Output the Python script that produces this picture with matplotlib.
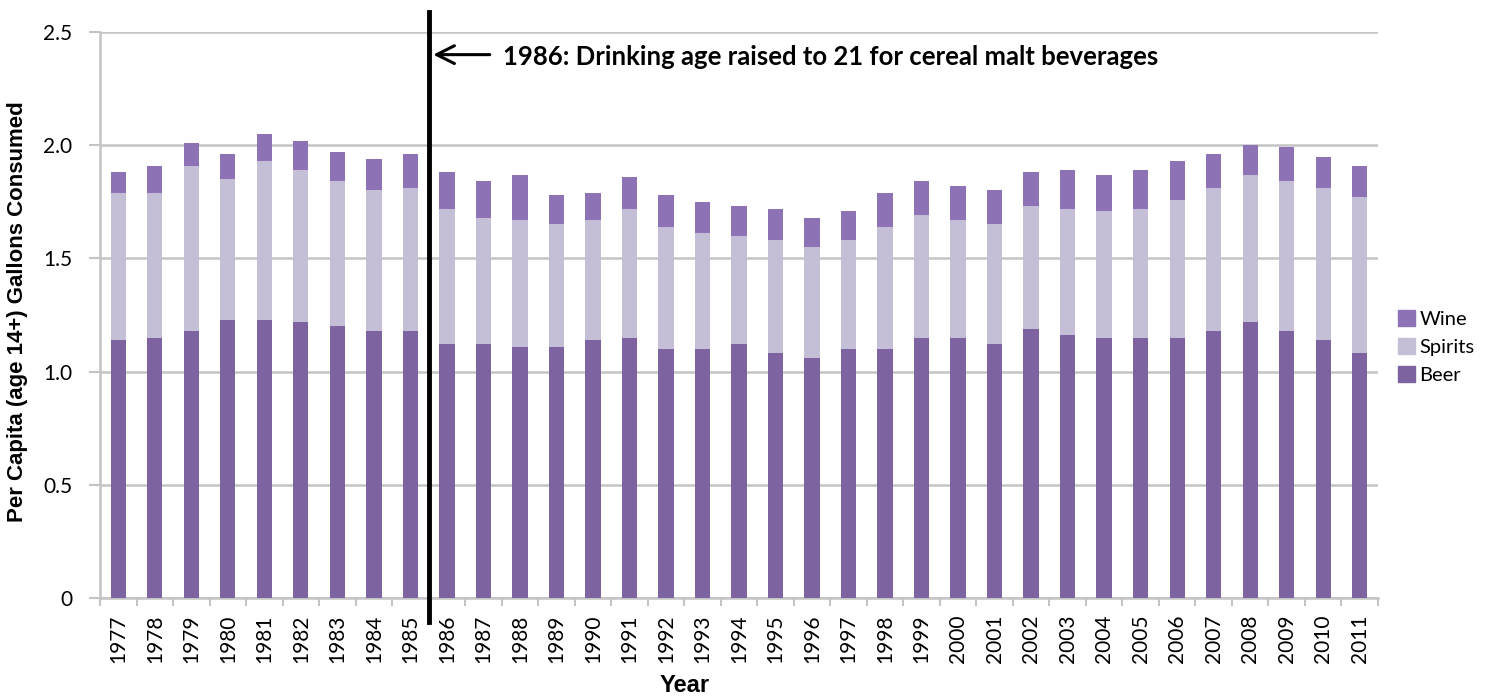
import matplotlib
matplotlib.use("Agg")
import matplotlib.pyplot as plt
from matplotlib.patches import Patch
import numpy as np

years = list(range(1977, 2012))
beer = [1.14, 1.15, 1.18, 1.23, 1.23, 1.22, 1.20, 1.18, 1.18,
        1.12, 1.12, 1.11, 1.11, 1.14, 1.15, 1.10, 1.10, 1.12, 1.08,
        1.06, 1.10, 1.10, 1.15, 1.15, 1.12, 1.19, 1.16, 1.15, 1.15,
        1.15, 1.18, 1.22, 1.18, 1.14, 1.08]
spirits = [0.65, 0.64, 0.73, 0.62, 0.70, 0.67, 0.64, 0.62, 0.63,
           0.60, 0.56, 0.56, 0.54, 0.53, 0.57, 0.54, 0.51, 0.48, 0.50,
           0.49, 0.48, 0.54, 0.54, 0.52, 0.53, 0.54, 0.56, 0.56, 0.57,
           0.61, 0.63, 0.65, 0.66, 0.67, 0.69]
wine = [0.09, 0.12, 0.10, 0.11, 0.12, 0.13, 0.13, 0.14, 0.15,
        0.16, 0.16, 0.20, 0.13, 0.12, 0.14, 0.14, 0.14, 0.13, 0.14,
        0.13, 0.13, 0.15, 0.15, 0.15, 0.15, 0.15, 0.17, 0.16, 0.17,
        0.17, 0.15, 0.13, 0.15, 0.14, 0.14]
yticks = [0, 0.5, 1.0, 1.5, 2.0, 2.5]
ytick_labels = ["0", "0.5", "1.0", "1.5", "2.0", "2.5"]
event_index = 8.5  # boundary between 1985 and 1986
event_text = "1986: Drinking age raised to 21 for cereal malt beverages"

c_beer = "#7d64a0"
c_spirits = "#c4bfd6"
c_wine = "#8e72b6"
grid_c = "#c4c4c4"

W, H = 1497, 696
fig = plt.figure(figsize=(W / 100, H / 100), dpi=100)
ax = fig.add_axes([100 / W, (H - 598) / H, (1378 - 100) / W, (598 - 32) / H])

x = np.arange(len(years))
bw = 0.42
beer_a = np.array(beer)
spirits_a = np.array(spirits)
wine_a = np.array(wine)
ax.bar(x, beer_a, bw, color=c_beer, zorder=3)
ax.bar(x, spirits_a, bw, bottom=beer_a, color=c_spirits, zorder=3)
ax.bar(x, wine_a, bw, bottom=beer_a + spirits_a, color=c_wine, zorder=3)

ax.set_xlim(-0.5, len(years) - 0.5)
ax.set_ylim(0, 2.5)
ax.set_yticks(yticks)
ax.set_yticklabels(ytick_labels, fontsize=15, family="Lato")
ax.yaxis.grid(True, color=grid_c, linewidth=1.8, zorder=0)
ax.tick_params(axis="y", length=8, width=1.5, color=grid_c, pad=12)

ax.set_xticks(x)
ax.set_xticklabels([str(y) for y in years], rotation=90, fontsize=15, family="Lato")
ax.set_xticks(np.arange(-0.5, len(years)), minor=True)
ax.tick_params(axis="x", which="major", length=0, pad=12)
ax.tick_params(axis="x", which="minor", length=6, width=1.5, color=grid_c)

for side in ["top", "right"]:
    ax.spines[side].set_visible(False)
for side in ["left", "bottom"]:
    ax.spines[side].set_color(grid_c)
    ax.spines[side].set_linewidth(1.8)

# Axis titles
fig.text(18 / W, 1 - 312 / H, "Per Capita (age 14+) Gallons Consumed", rotation=90,
         fontsize=16, fontweight="bold", family="Liberation Sans",
         ha="center", va="center")
fig.text(685 / W, 1 - 685 / H, "Year", fontsize=17, fontweight="bold",
         family="Liberation Sans", ha="center", va="center")

# Event marker line extending beyond the plotting area
trans = matplotlib.transforms.blended_transform_factory(ax.transData, ax.transAxes)
ax.plot([event_index, event_index], [-0.043, 1.036], color="black", linewidth=3.5,
        transform=trans, clip_on=False, zorder=5)
ax.annotate("", xy=(event_index + 0.05, 2.40), xytext=(event_index + 1.75, 2.40),
            arrowprops=dict(arrowstyle="->", color="black", lw=2.2,
                            mutation_scale=32), zorder=5)
ax.text(event_index + 2.05, 2.389, event_text, fontsize=18.5, fontweight="bold",
        family="Lato", va="center", ha="left", zorder=5)

handles = [Patch(color=c_wine, label="Wine"),
           Patch(color=c_spirits, label="Spirits"),
           Patch(color=c_beer, label="Beer")]
fig.legend(handles=handles, loc="center left",
           bbox_to_anchor=(1380 / W, (H - 347) / H), frameon=False,
           prop=dict(family="Lato", size=14.5), handlelength=0.85,
           handleheight=0.85, handletextpad=0.2, labelspacing=0.5)

fig.savefig("out.png", dpi=100, facecolor="white")
